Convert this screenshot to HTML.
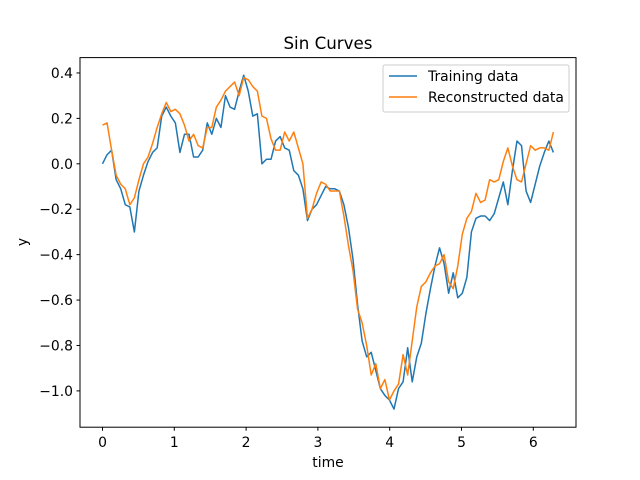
<!DOCTYPE html>
<html><head><meta charset="utf-8"><style>
body{margin:0;background:#fff}
svg{display:block;font-family:"DejaVu Sans","Liberation Sans",sans-serif}
</style></head><body>
<svg id="chart" width="640" height="480">
<rect width="640" height="480" fill="#fff"/>
<text x="328" y="49" font-size="16.7" text-anchor="middle">Sin Curves</text>
<text x="328" y="467" font-size="13.9" text-anchor="middle">time</text>
<text x="27" y="242" font-size="13.9" text-anchor="middle" transform="rotate(-90 27 242)">y</text>
<g id="xticks"></g>
<g id="yticks"></g>
<g id="series"></g>
<rect x="80" y="57.6" width="496" height="369.6" fill="none" stroke="#000" stroke-width="1"/>
<g>
<rect x="383" y="65" width="186" height="47" rx="2" fill="#fff" fill-opacity="0.8" stroke="#ccc"/>
<line x1="389" y1="76" x2="417" y2="76" stroke="#1f77b4" stroke-width="1.5"/>
<text x="428" y="81" font-size="13.9">Training data</text>
<line x1="389" y1="97" x2="417" y2="97" stroke="#ff7f0e" stroke-width="1.5"/>
<text x="428" y="102" font-size="13.9">Reconstructed data</text>
</g>
</svg>
<script>
const xTicks=[0,1,2,3,4,5,6];
const yTicks=[-1.0,-0.8,-0.6,-0.4,-0.2,0.0,0.2,0.4];
const tMax=6.28;
const training=[0.00,0.04,0.06,-0.07,-0.11,-0.18,-0.19,-0.30,-0.12,-0.05,
0.01,0.05,0.07,0.21,0.25,0.21,0.18,0.05,0.13,0.13,
0.03,0.03,0.06,0.18,0.13,0.20,0.16,0.30,0.25,0.24,
0.32,0.39,0.32,0.21,0.22,0.00,0.02,0.02,0.10,0.12,
0.07,0.06,-0.03,-0.05,-0.11,-0.25,-0.20,-0.18,-0.14,-0.10,
-0.11,-0.11,-0.12,-0.18,-0.28,-0.42,-0.62,-0.78,-0.85,-0.83,
-0.91,-0.99,-1.02,-1.04,-1.08,-0.99,-0.96,-0.81,-0.96,-0.85,
-0.79,-0.66,-0.55,-0.45,-0.37,-0.44,-0.57,-0.48,-0.59,-0.57,
-0.50,-0.30,-0.24,-0.23,-0.23,-0.25,-0.22,-0.15,-0.08,-0.18,
-0.03,0.10,0.08,-0.12,-0.17,-0.09,-0.01,0.05,0.10,0.05];
const reconstructed=[0.17,0.18,0.06,-0.05,-0.09,-0.11,-0.18,-0.15,-0.07,0.00,
0.03,0.09,0.16,0.22,0.27,0.23,0.24,0.22,0.17,0.10,
0.13,0.08,0.07,0.16,0.16,0.25,0.28,0.32,0.34,0.36,
0.30,0.38,0.37,0.34,0.32,0.21,0.20,0.11,0.06,0.06,
0.14,0.10,0.14,0.07,0.00,-0.24,-0.20,-0.13,-0.08,-0.09,
-0.12,-0.12,-0.12,-0.23,-0.36,-0.47,-0.64,-0.70,-0.80,-0.93,
-0.88,-0.99,-0.95,-1.04,-1.00,-0.97,-0.84,-0.93,-0.78,-0.63,
-0.54,-0.52,-0.48,-0.45,-0.44,-0.40,-0.52,-0.55,-0.45,-0.31,
-0.24,-0.21,-0.13,-0.17,-0.16,-0.07,-0.08,-0.07,0.01,0.07,
-0.01,-0.07,-0.08,0.00,0.08,0.06,0.07,0.07,0.06,0.14];
const NS="http://www.w3.org/2000/svg";
function X(v){return 102.5+v*71.8;}
function Y(v){return 163.8-v*227.1;}
function mk(tag,attrs,parent){const e=document.createElementNS(NS,tag);for(const k in attrs)e.setAttribute(k,attrs[k]);parent.appendChild(e);return e;}
const gx=document.getElementById('xticks'),gy=document.getElementById('yticks'),gs=document.getElementById('series');
xTicks.forEach(t=>{
 const l=mk('line',{x1:X(t),x2:X(t),y1:427.2,y2:430.7,stroke:'#000'},gx);
 
 
 const s=mk('text',{x:X(t),y:447,'font-size':13.9,'text-anchor':'middle'},gx);
 s.textContent=String(t);
 
 
});
yTicks.forEach(t=>{
 const l=mk('line',{x1:76.5,x2:80,y1:Y(t),y2:Y(t),stroke:'#000'},gy);
 
 
 const s=mk('text',{x:73,y:Y(t)+5,'font-size':13.9,'text-anchor':'end'},gy);
 s.textContent=t.toFixed(1).replace('-','\u2212');
 
 
});
function line(arr,color,name){
 const n=arr.length;
 const pts=arr.map((v,i)=>X(i*tMax/(n-1)).toFixed(2)+','+Y(v).toFixed(2)).join(' ');
 const p=mk('polyline',{points:pts,fill:'none',stroke:color,'stroke-width':1.5,'stroke-linejoin':'round'},gs);
 
 
}
line(training,'#1f77b4','training-data-line');
line(reconstructed,'#ff7f0e','reconstructed-data-line');
</script>
</body></html>
